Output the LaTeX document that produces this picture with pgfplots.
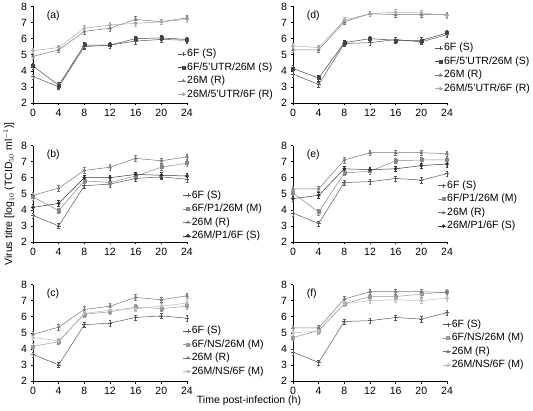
\documentclass[border=0pt]{standalone}
\usepackage{fontspec}
\setmainfont{Liberation Sans}
\usepackage{pgfplots}
\pgfplotsset{compat=1.18}
\definecolor{cS}{HTML}{555555}
\definecolor{cR}{HTML}{777777}
\definecolor{cA}{HTML}{444444}
\definecolor{cB}{HTML}{AAAAAA}
\definecolor{cP}{HTML}{888888}
\definecolor{cQ}{HTML}{333333}
\definecolor{cN}{HTML}{999999}
\definecolor{cM}{HTML}{BBBBBB}
\pgfplotsset{
  panel/.style={scale only axis, width=154pt, height=96.5pt,
    xmin=0, xmax=24, ymin=2, ymax=8,
    xtick={0,4,...,24}, ytick={2,...,8},
    axis lines*=left, tick align=outside,
    major tick length=2.5pt,
    tick style={black, line width=0.5pt},
    axis line style={black, line width=0.5pt},
    tick label style={font=\fontsize{10.5}{12}\selectfont},
    /pgf/number format/assume math mode=true,
    clip=false,
    legend style={draw=none, fill=none, anchor=north west, inner sep=0pt, outer sep=0pt,
      font=\fontsize{10.5}{12}\selectfont, row sep=2pt,
      nodes={inner sep=1pt, text height=7.5pt, text depth=2pt}},
    legend cell align=left,
    legend image code/.code={\draw[mark repeat=2, mark phase=2, ##1] plot coordinates {(0cm,0cm) (0.19cm,0cm) (0.28cm,0cm)};},
  },
  ser/.style={line width=0.5pt, mark size=1.6pt,
    error bars/y dir=both, error bars/y fixed=0.17,
    error bars/error bar style={line width=0.4pt, solid},
    error bars/error mark options={rotate=90, mark size=1.4pt, line width=0.4pt}},
  sS/.style={ser, color=cS, mark=+, mark size=2pt},
  sR/.style={ser, color=cR, mark=triangle*, mark options={fill=cR}},
  sA/.style={ser, color=cA, mark=square*, mark size=1.5pt, mark options={fill=cA}},
  sB/.style={ser, color=cB, mark=*, mark options={fill=cB}},
  sP/.style={ser, color=cP, mark=square*, mark size=1.5pt, mark options={fill=cP}},
  sQ/.style={ser, color=cQ, mark=*, mark options={fill=cQ}},
  sN/.style={ser, color=cN, mark=square*, mark size=1.5pt, mark options={fill=cN}},
  sM/.style={ser, color=cM, mark=*, mark options={fill=cM}},
}
\newcommand{\lab}[1]{\node[anchor=west, font=\fontsize{10.5}{12}\selectfont] at (axis cs:1.6,7.45) {#1};}
\begin{document}
\begin{tikzpicture}
\path[use as bounding box] (0,0) rectangle (533pt,410pt);
% (a)
\begin{axis}[panel, at={(33pt,307pt)}, anchor=south west,
  legend style={at={(rel axis cs:0.94,0.568)}}]
\addplot[sS] coordinates {(0,3.65) (4,3.0) (8,5.5) (12,5.6) (16,5.85) (20,5.95) (24,5.9)};
\addplot[sA] coordinates {(0,4.3) (4,3.1) (8,5.6) (12,5.6) (16,6.0) (20,6.05) (24,5.95)};
\addplot[sR] coordinates {(0,4.9) (4,5.3) (8,6.45) (12,6.65) (16,7.2) (20,7.05) (24,7.3)};
\addplot[sB] coordinates {(0,5.25) (4,5.45) (8,6.65) (12,6.85) (16,6.95) (20,7.05) (24,7.2)};
\legend{6F (S),6F/5'UTR/26M (S),26M (R),26M/5'UTR/6F (R)}
\lab{(a)}
\end{axis}
% (b)
\begin{axis}[panel, at={(33pt,168pt)}, anchor=south west,
  legend style={at={(rel axis cs:0.97,0.543)}}]
\addplot[sS] coordinates {(0,3.65) (4,3.0) (8,5.5) (12,5.6) (16,5.95) (20,6.05) (24,5.9)};
\addplot[sP] coordinates {(0,4.8) (4,3.95) (8,5.8) (12,5.7) (16,6.1) (20,6.65) (24,6.9)};
\addplot[sR] coordinates {(0,4.9) (4,5.35) (8,6.45) (12,6.65) (16,7.2) (20,7.05) (24,7.3)};
\addplot[sQ] coordinates {(0,4.15) (4,4.4) (8,6.0) (12,6.0) (16,6.2) (20,6.15) (24,6.1)};
\legend{6F (S),6F/P1/26M (M),26M (R),26M/P1/6F (S)}
\lab{(b)}
\end{axis}
% (c)
\begin{axis}[panel, at={(33pt,29pt)}, anchor=south west,
  legend style={at={(rel axis cs:0.97,0.577)}}]
\addplot[sS] coordinates {(0,3.65) (4,3.0) (8,5.5) (12,5.6) (16,5.95) (20,6.05) (24,5.9)};
\addplot[sN] coordinates {(0,4.15) (4,4.45) (8,6.15) (12,6.3) (16,6.6) (20,6.5) (24,6.65)};
\addplot[sR] coordinates {(0,4.9) (4,5.35) (8,6.45) (12,6.65) (16,7.2) (20,7.05) (24,7.3)};
\addplot[sM] coordinates {(0,4.7) (4,4.5) (8,6.2) (12,6.4) (16,6.5) (20,6.65) (24,6.85)};
\legend{6F (S),6F/NS/26M (M),26M (R),26M/NS/6F (M)}
\lab{(c)}
\end{axis}
% (d)
\begin{axis}[panel, at={(293pt,307pt)}, anchor=south west,
  legend style={at={(rel axis cs:0.92,0.627)}}]
\addplot[sS] coordinates {(0,3.8) (4,3.15) (8,5.7) (12,5.75) (16,5.95) (20,5.8) (24,6.25)};
\addplot[sA] coordinates {(0,4.15) (4,3.55) (8,5.75) (12,6.0) (16,5.9) (20,5.9) (24,6.35)};
\addplot[sR] coordinates {(0,5.3) (4,5.3) (8,7.05) (12,7.55) (16,7.5) (20,7.5) (24,7.5)};
\addplot[sB] coordinates {(0,5.55) (4,5.45) (8,7.15) (12,7.55) (16,7.65) (20,7.6) (24,7.45)};
\legend{6F (S),6F/5'UTR/26M (S),26M (R),26M/5'UTR/6F (R)}
\lab{(d)}
\end{axis}
% (e)
\begin{axis}[panel, at={(293pt,168pt)}, anchor=south west,
  legend style={at={(rel axis cs:0.94,0.643)}}]
\addplot[sS] coordinates {(0,3.8) (4,3.15) (8,5.7) (12,5.75) (16,5.95) (20,5.85) (24,6.25)};
\addplot[sP] coordinates {(0,5.05) (4,3.85) (8,6.3) (12,6.4) (16,7.05) (20,7.1) (24,7.1)};
\addplot[sR] coordinates {(0,5.3) (4,5.3) (8,7.1) (12,7.55) (16,7.55) (20,7.55) (24,7.5)};
\addplot[sQ] coordinates {(0,4.7) (4,4.9) (8,6.55) (12,6.5) (16,6.55) (20,6.75) (24,6.85)};
\legend{6F (S),6F/P1/26M (M),26M (R),26M/P1/6F (S)}
\lab{(e)}
\end{axis}
% (f)
\begin{axis}[panel, at={(293pt,29pt)}, anchor=south west,
  legend style={at={(rel axis cs:0.97,0.643)}}]
\addplot[sS] coordinates {(0,3.8) (4,3.15) (8,5.7) (12,5.75) (16,5.95) (20,5.85) (24,6.25)};
\addplot[sN] coordinates {(0,4.7) (4,5.15) (8,6.8) (12,7.25) (16,7.25) (20,7.4) (24,7.55)};
\addplot[sR] coordinates {(0,5.3) (4,5.3) (8,7.1) (12,7.55) (16,7.55) (20,7.55) (24,7.5)};
\addplot[sM] coordinates {(0,5.0) (4,5.1) (8,6.8) (12,7.0) (16,7.05) (20,7.0) (24,7.15)};
\legend{6F (S),6F/NS/26M (M),26M (R),26M/NS/6F (M)}
\lab{(f)}
\end{axis}
\node[rotate=90, font=\fontsize{10.5}{12}\selectfont] at (9pt,216pt) {Virus titre [log$_{10}$ (TCID$_{50}$ ml$^{-1}$)]};
\node[font=\fontsize{10.5}{12}\selectfont] at (249pt,9pt) {Time post-infection (h)};
\end{tikzpicture}
\end{document}
